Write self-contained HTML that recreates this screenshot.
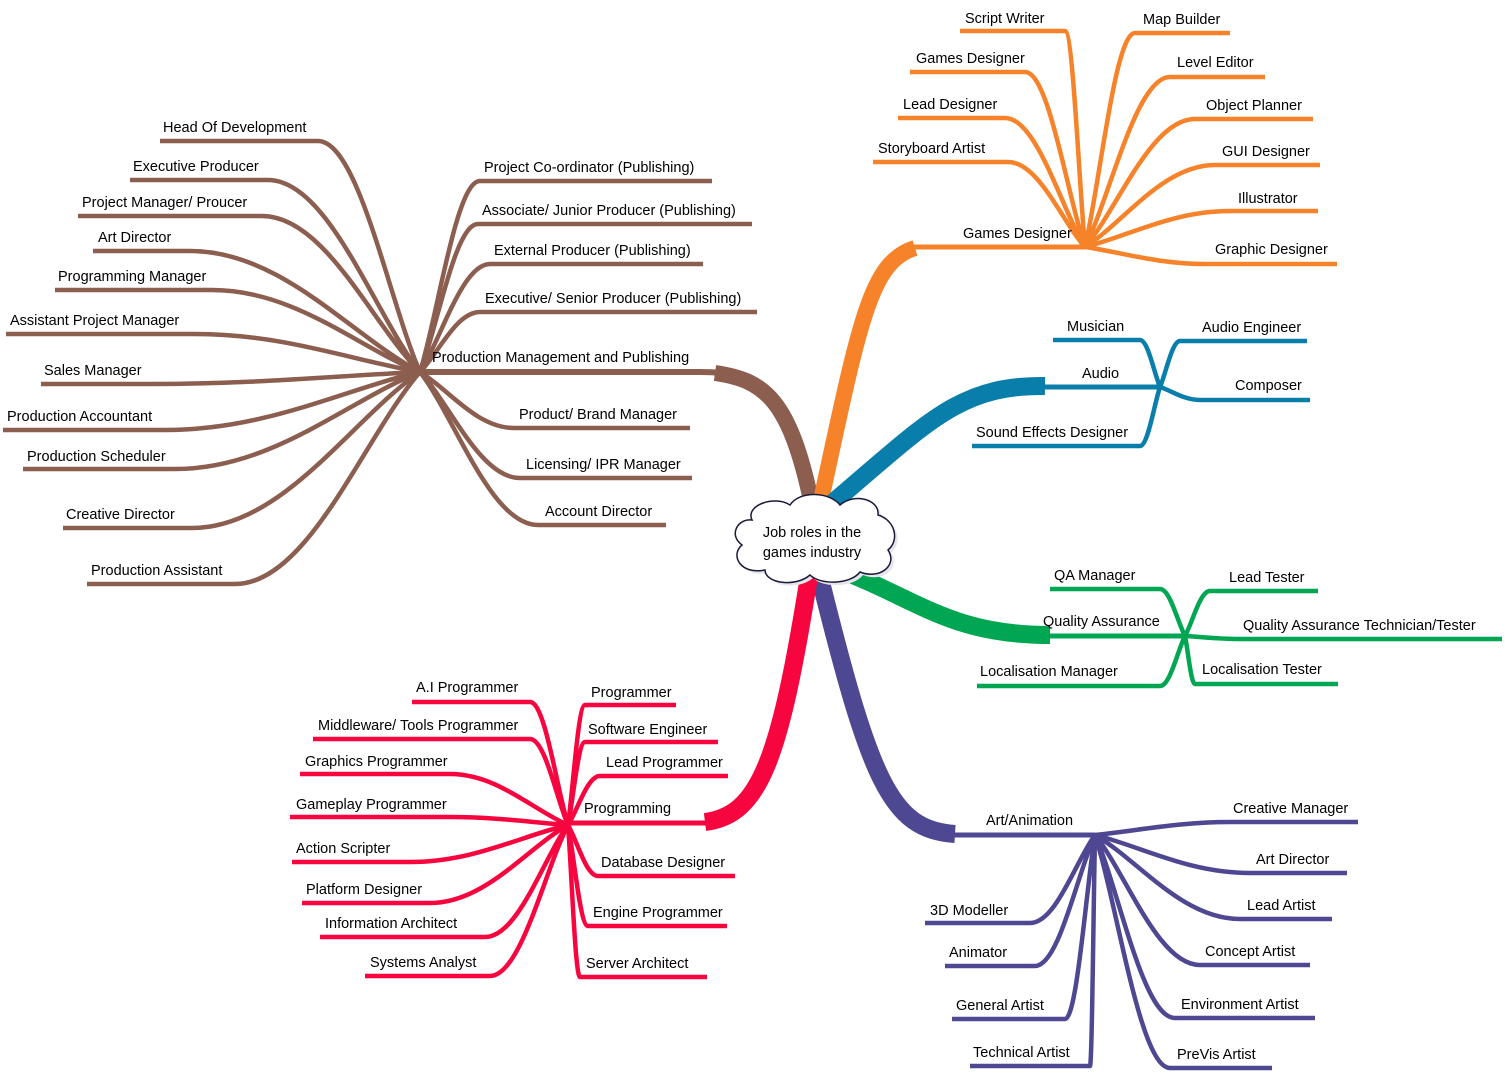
<!DOCTYPE html>
<html><head><meta charset="utf-8"><style>
html,body{margin:0;padding:0;background:#fff;}
svg{display:block}
text{font-family:"Liberation Sans","DejaVu Sans",sans-serif;font-size:14.5px;fill:#000;}
</style></head><body>
<svg id="s" width="1505" height="1079" viewBox="0 0 1505 1079" xmlns="http://www.w3.org/2000/svg">
<g id="lines" fill="none" stroke-linecap="butt"></g>
<!-- main branches -->
<g fill="none">
<path d="M420 372H700C760 372 790 390 812 505" stroke="#8B5E4F" stroke-width="6"/>
<path d="M715 373C765 380 790 400 812 505" stroke="#8B5E4F" stroke-width="16"/>
<path d="M910 247H1085" stroke="#F6822A" stroke-width="5"/>
<path d="M915 248C870 262 860 320 820 505" stroke="#F6822A" stroke-width="16"/>
<path d="M1030 387H1160" stroke="#0A7EAB" stroke-width="5"/>
<path d="M1045 386C960 385 930 420 830 505" stroke="#0A7EAB" stroke-width="18"/>
<path d="M1040 636H1185" stroke="#00A651" stroke-width="5"/>
<path d="M1050 635C950 635 920 600 835 568" stroke="#00A651" stroke-width="18"/>
<path d="M940 835H1095" stroke="#4E4791" stroke-width="5"/>
<path d="M955 834C890 830 870 780 818 570" stroke="#4E4791" stroke-width="18"/>
<path d="M568 823H715" stroke="#F7053F" stroke-width="5"/>
<path d="M705 822C760 815 780 760 810 570" stroke="#F7053F" stroke-width="18"/>
</g>
<!-- cloud -->
<path d="M752 520 C745 505 775 495 790 505 C800 490 830 492 840 505 C855 492 880 500 878 515 C895 520 900 540 888 550 C898 565 880 580 860 572 C850 585 820 585 810 575 C795 588 765 583 765 570 C740 575 730 555 742 545 C728 535 738 518 752 520 Z" fill="#e6e6ea" transform="translate(3,3)"/>
<path d="M752 520 C745 505 775 495 790 505 C800 490 830 492 840 505 C855 492 880 500 878 515 C895 520 900 540 888 550 C898 565 880 580 860 572 C850 585 820 585 810 575 C795 588 765 583 765 570 C740 575 730 555 742 545 C728 535 738 518 752 520 Z" fill="#fff" stroke="#1a1a3a" stroke-width="1.5"/>
<text x="812" y="537" text-anchor="middle">Job roles in the</text>
<text x="812" y="557" text-anchor="middle">games industry</text>

<g>
<text x="432" y="362">Production Management and Publishing</text>
<text x="163" y="132">Head Of Development</text>
<text x="133" y="171">Executive Producer</text>
<text x="82" y="207">Project Manager/ Proucer</text>
<text x="98" y="242">Art Director</text>
<text x="58" y="281">Programming Manager</text>
<text x="10" y="325">Assistant Project Manager</text>
<text x="44" y="375">Sales Manager</text>
<text x="7" y="421">Production Accountant</text>
<text x="27" y="461">Production Scheduler</text>
<text x="66" y="519">Creative Director</text>
<text x="91" y="575">Production Assistant</text>
<text x="484" y="172">Project Co-ordinator (Publishing)</text>
<text x="482" y="215">Associate/ Junior Producer (Publishing)</text>
<text x="494" y="255">External Producer (Publishing)</text>
<text x="485" y="303">Executive/ Senior Producer (Publishing)</text>
<text x="519" y="419">Product/ Brand Manager</text>
<text x="526" y="469">Licensing/ IPR Manager</text>
<text x="545" y="516">Account Director</text>

<text x="963" y="238">Games Designer</text>
<text x="965" y="23">Script Writer</text>
<text x="916" y="63">Games Designer</text>
<text x="903" y="109">Lead Designer</text>
<text x="878" y="153">Storyboard Artist</text>
<text x="1143" y="24">Map Builder</text>
<text x="1177" y="67">Level Editor</text>
<text x="1206" y="110">Object Planner</text>
<text x="1222" y="156">GUI Designer</text>
<text x="1238" y="203">Illustrator</text>
<text x="1215" y="254">Graphic Designer</text>

<text x="1082" y="378">Audio</text>
<text x="1067" y="331">Musician</text>
<text x="976" y="437">Sound Effects Designer</text>
<text x="1202" y="332">Audio Engineer</text>
<text x="1235" y="390">Composer</text>

<text x="1043" y="626">Quality Assurance</text>
<text x="1054" y="580">QA Manager</text>
<text x="980" y="676">Localisation Manager</text>
<text x="1229" y="582">Lead Tester</text>
<text x="1243" y="630">Quality Assurance Technician/Tester</text>
<text x="1202" y="674">Localisation Tester</text>

<text x="986" y="825">Art/Animation</text>
<text x="1233" y="813">Creative Manager</text>
<text x="1256" y="864">Art Director</text>
<text x="1247" y="910">Lead Artist</text>
<text x="1205" y="956">Concept Artist</text>
<text x="1181" y="1009">Environment Artist</text>
<text x="1177" y="1059">PreVis Artist</text>
<text x="930" y="915">3D Modeller</text>
<text x="949" y="957">Animator</text>
<text x="956" y="1010">General Artist</text>
<text x="973" y="1057">Technical Artist</text>

<text x="584" y="813">Programming</text>
<text x="416" y="692">A.I Programmer</text>
<text x="318" y="730">Middleware/ Tools Programmer</text>
<text x="305" y="766">Graphics Programmer</text>
<text x="296" y="809">Gameplay Programmer</text>
<text x="296" y="853">Action Scripter</text>
<text x="306" y="894">Platform Designer</text>
<text x="325" y="928">Information Architect</text>
<text x="370" y="967">Systems Analyst</text>
<text x="591" y="697">Programmer</text>
<text x="588" y="734">Software Engineer</text>
<text x="606" y="767">Lead Programmer</text>
<text x="601" y="867">Database Designer</text>
<text x="593" y="917">Engine Programmer</text>
<text x="586" y="968">Server Architect</text>
</g>
</svg>
<script>
var B='#8B5E4F',O='#F6822A',U='#0A7EAB',G='#00A651',P='#4E4791',R='#F7053F';
// [color,hx,hy,y,xL,xR,side]
var L=[
[B,420,372,141,160,318,'L'],[B,420,372,180,130,268,'L'],[B,420,372,216,78,262,'L'],[B,420,372,251,93,190,'L'],
[B,420,372,290,55,212,'L'],[B,420,372,334,6,195,'L'],[B,420,372,384,41,150,'L'],[B,420,372,430,3,165,'L'],
[B,420,372,469,23,175,'L'],[B,420,372,528,63,192,'L'],[B,420,372,584,87,235,'L'],
[B,420,372,181,480,712,'R'],[B,420,372,224,478,752,'R'],[B,420,372,264,490,703,'R'],[B,420,372,312,480,757,'R'],
[B,420,372,428,514,690,'R'],[B,420,372,478,520,692,'R'],[B,420,372,525,538,666,'R'],
[O,1085,247,31,960,1065,'L'],[O,1085,247,72,910,1025,'L'],[O,1085,247,118,898,1005,'L'],[O,1085,247,162,873,1008,'L'],
[O,1085,247,33,1135,1230,'R'],[O,1085,247,77,1170,1265,'R'],[O,1085,247,119,1195,1313,'R'],[O,1085,247,165,1215,1320,'R'],
[O,1085,247,211,1230,1318,'R'],[O,1085,247,264,1205,1337,'R'],
[U,1160,387,340,1053,1140,'L'],[U,1160,387,446,972,1140,'L'],[U,1160,387,341,1180,1307,'R'],[U,1160,387,400,1200,1310,'R'],
[G,1185,636,589,1050,1160,'L'],[G,1185,636,686,977,1160,'L'],[G,1185,636,591,1210,1318,'R'],[G,1185,636,639,1240,1502,'R'],[G,1185,636,684,1195,1338,'R'],
[P,1095,835,822,1230,1358,'R'],[P,1095,835,873,1250,1347,'R'],[P,1095,835,919,1240,1332,'R'],[P,1095,835,965,1200,1310,'R'],
[P,1095,835,1018,1175,1315,'R'],[P,1095,835,1068,1170,1272,'R'],
[P,1095,835,923,925,1030,'L'],[P,1095,835,966,945,1035,'L'],[P,1095,835,1019,952,1065,'L'],[P,1095,835,1066,970,1090,'L'],
[R,568,825,702,412,530,'L'],[R,568,825,739,313,530,'L'],[R,568,825,774,300,450,'L'],[R,568,825,817,290,450,'L'],
[R,568,825,862,292,410,'L'],[R,568,825,903,302,430,'L'],[R,568,825,937,320,485,'L'],[R,568,825,976,365,490,'L'],
[R,568,825,705,585,676,'R'],[R,568,825,742,585,718,'R'],[R,568,825,776,600,728,'R'],
[R,568,825,876,598,735,'R'],[R,568,825,926,588,727,'R'],[R,568,825,977,580,707,'R']
];
var g=document.getElementById('lines'),h='';
L.forEach(function(a){var c=a[0],hx=a[1],hy=a[2],y=a[3],xL=a[4],xR=a[5],d;
if(a[6]=='L'){var dx=hx-xR,dy=hy-y;d='M'+xL+' '+y+'H'+xR+'C'+(xR+dx*0.4)+' '+y+' '+(hx-dx*0.3)+' '+(hy-dy*0.3)+' '+hx+' '+hy;}
else{var dx=xL-hx,dy=y-hy;d='M'+hx+' '+hy+'C'+(hx+dx*0.3)+' '+(hy+dy*0.3)+' '+(xL-dx*0.4)+' '+y+' '+xL+' '+y+'H'+xR;}
h+='<path d="'+d+'" stroke="'+c+'" stroke-width="4.5"/>';});
g.innerHTML=h;
</script>
</body></html>
